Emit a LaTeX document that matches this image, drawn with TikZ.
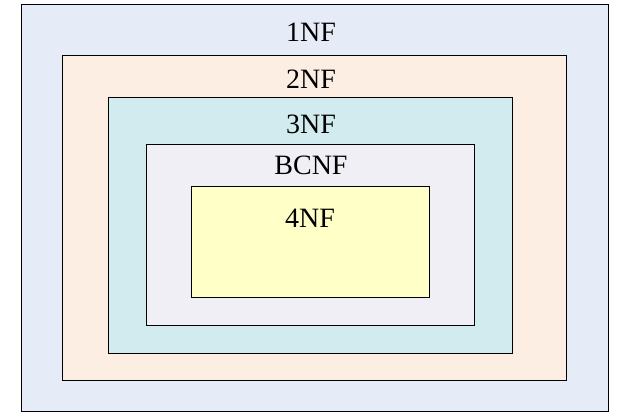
\documentclass[tikz,border=0pt]{standalone}
\usepackage{fontspec}
\setmainfont{Liberation Serif}
\definecolor{nfone}{HTML}{E6ECF7}
\definecolor{nftwo}{HTML}{FDEEE4}
\definecolor{nfthree}{HTML}{D2EBEF}
\definecolor{nfbc}{HTML}{F0EFF5}
\definecolor{nffour}{HTML}{FFFFC8}
\tikzset{
  nfbox/.style={draw=black, line width=0.8pt},
  nflabel/.style={anchor=base, inner sep=0pt, font=\fontsize{28}{30}\selectfont}
}

\begin{document}
\begin{tikzpicture}[x=1pt, y=-1pt]
      \useasboundingbox (0,0) rectangle (630,419);
      \draw[nfbox, fill=nfone] (21,4) rectangle (608,411);
      \draw[nfbox, fill=nftwo] (62,55) rectangle (566,380);
      \draw[nfbox, fill=nfthree] (108,97) rectangle (512,353);
      \draw[nfbox, fill=nfbc] (146,144) rectangle (474,325);
      \draw[nfbox, fill=nffour] (191,186) rectangle (429,297);
      \node[nflabel] (onenf) at (311,42) {1NF};
      \node[nflabel] (twonf) at (311,89) {2NF};
      \node[nflabel] (threenf) at (311,134) {3NF};
      \node[nflabel] (bcnf) at (311,175) {BCNF};
      \node[nflabel] (fournf) at (310,228) {4NF};
    \end{tikzpicture}
\end{document}
